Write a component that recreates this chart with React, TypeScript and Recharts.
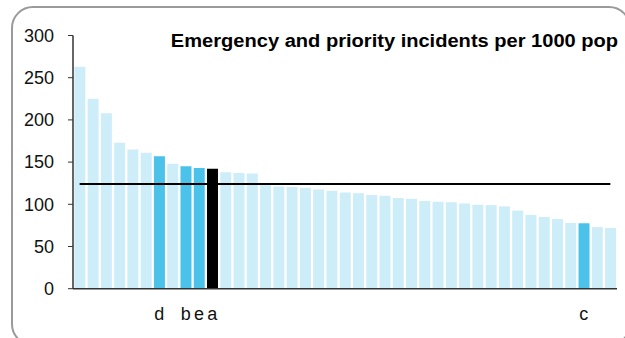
import React from 'react';
import { ComposedChart, Bar, Line, XAxis, YAxis, Cell } from 'recharts';

const values = [263, 225, 208, 173, 165, 161, 157, 148, 145, 143, 142, 138, 137, 136.5, 122.5, 121, 120.5, 119.5, 117.5, 116, 114, 113, 111, 110, 107.5, 106.5, 104, 103, 102.5, 101, 99.5, 99, 97.5, 92.5, 87.5, 85, 82.5, 78, 77.5, 73, 72];
const labels = ['', '', '', '', '', '', 'd', '', 'b', 'e', 'a', '', '', '', '', '', '', '', '', '', '', '', '', '', '', '', '', '', '', '', '', '', '', '', '', '', '', '', 'c', '', ''];
const kinds = ['n', 'n', 'n', 'n', 'n', 'n', 'h', 'n', 'h', 'h', 'x', 'n', 'n', 'n', 'n', 'n', 'n', 'n', 'n', 'n', 'n', 'n', 'n', 'n', 'n', 'n', 'n', 'n', 'n', 'n', 'n', 'n', 'n', 'n', 'n', 'n', 'n', 'n', 'h', 'n', 'n'];
const average = 124;
const yTicks = [0, 50, 100, 150, 200, 250, 300];
const title = 'Emergency and priority incidents per 1000 pop';

const colorOf: Record<string, string> = { n: '#cdedf9', h: '#4bc2ea', x: '#000000' };

const data = values.map((v, i) => ({ idx: i, value: v, avg: average }));

const FONT = '"Liberation Sans", Arial, sans-serif';

export default function App() {
  return (
    <div style={{ position: 'absolute', left: 0, top: 0, width: 625, height: 338, overflow: 'hidden', background: '#fff' }}>
      <div style={{ position: 'absolute', left: 11, top: 6, width: 620, height: 340, border: '2px solid #9a9a9a', borderRadius: 22, boxSizing: 'border-box' }} />
      <ComposedChart width={625} height={338} data={data} margin={{ top: 35.5, right: 8, bottom: 19.3, left: 0 }} barCategoryGap="10%">
        <XAxis dataKey="idx" interval={0} tickLine={false} tickSize={0} tickMargin={19}
          tickFormatter={(_v: any, i: number) => labels[i]}
          axisLine={{ stroke: '#333', strokeWidth: 1.5 }}
          tick={{ fill: '#111', fontSize: 18, fontFamily: FONT }} height={30} />
        <YAxis domain={[0, 300]} ticks={yTicks} width={73} tickSize={5} tickMargin={14}
          axisLine={{ stroke: '#333', strokeWidth: 1.5 }} tickLine={{ stroke: '#333' }}
          tick={{ fill: '#111', fontSize: 18, fontFamily: FONT }} />
        <Bar dataKey="value" isAnimationActive={false}>
          {data.map((_d, i) => (
            <Cell key={i} fill={colorOf[kinds[i]]} />
          ))}
        </Bar>
        <Line dataKey="avg" type="linear" stroke="#000" strokeWidth={2} dot={false} activeDot={false} isAnimationActive={false} />
      </ComposedChart>
      <div style={{ position: 'absolute', right: 625 - 618, top: 31.5, fontFamily: FONT, fontWeight: 'bold', fontSize: 18, lineHeight: '18px', color: '#000', whiteSpace: 'nowrap', transform: 'scaleX(1.115)', transformOrigin: 'right center' }}>{title}</div>
    </div>
  );
}
